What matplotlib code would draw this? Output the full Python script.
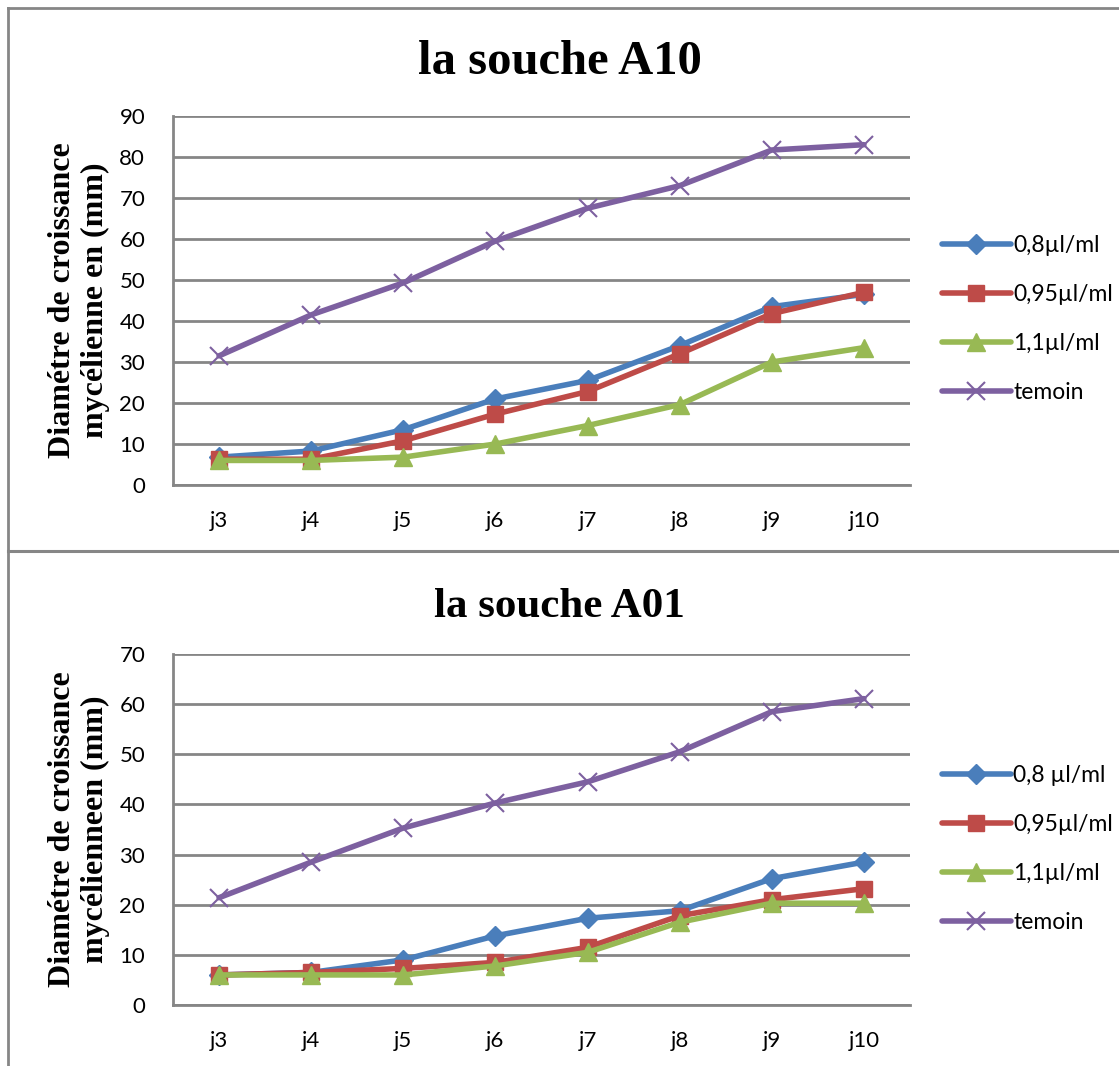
import matplotlib
matplotlib.use("Agg")
import matplotlib.pyplot as plt
from matplotlib.lines import Line2D
import numpy as np

# days on the x axis
days = ['j3', 'j4', 'j5', 'j6', 'j7', 'j8', 'j9', 'j10']

# la souche A10
a10_labels = ['0,8µl/ml', '0,95µl/ml', '1,1µl/ml', 'temoin']
a10_08 = [6.8, 8.3, 13.5, 21.0, 25.5, 34.0, 43.5, 46.5]
a10_095 = [6.3, 6.3, 10.8, 17.3, 22.8, 32.0, 41.8, 47.0]
a10_11 = [6.0, 6.0, 6.8, 10.0, 14.5, 19.6, 30.0, 33.5]
a10_temoin = [31.5, 41.5, 49.3, 59.5, 67.5, 73.0, 81.7, 83.0]

# la souche A01
a01_labels = ['0,8 µl/ml', '0,95µl/ml', '1,1µl/ml', 'temoin']
a01_08 = [6.0, 6.5, 9.0, 13.8, 17.3, 18.8, 25.2, 28.5]
a01_095 = [6.0, 6.5, 7.3, 8.5, 11.5, 17.8, 21.0, 23.2]
a01_11 = [6.0, 6.0, 6.0, 7.8, 10.5, 16.5, 20.3, 20.3]
a01_temoin = [21.4, 28.5, 35.3, 40.3, 44.5, 50.5, 58.5, 61.1]

colors = ['#4A7EBB', '#BE4B48', '#98B954', '#7D60A0']
markers = ['D', 's', '^', 'x']
msizes = [10.5, 12, 12.5, 13]
grid_col = '#868686'
tick_font = 'Lato'
serif = 'Liberation Serif'

fig = plt.figure(figsize=(11.19, 10.66), dpi=100)


def draw_panel(rect, series, labels, ymax, title, ylabel, title_y, title_size,
               leg_y):
    ax = fig.add_axes(rect)
    x = np.arange(len(days))
    for vals, lab, c, m, ms in zip(series, labels, colors, markers, msizes):
        mew = 1.5 if m == 'x' else 1
        ax.plot(x, vals, color=c, lw=4.0, marker=m, markersize=ms,
                markeredgewidth=mew, markeredgecolor=c, label=lab,
                solid_capstyle='round')
    ax.set_xlim(-0.5, len(days) - 0.5)
    ax.set_ylim(0, ymax)
    ax.set_yticks(np.arange(0, ymax + 1, 10))
    ax.set_xticks(x)
    ax.set_xticklabels(days)
    ax.yaxis.grid(True, color=grid_col, lw=2)
    ax.set_axisbelow(True)
    for s in ['top', 'right']:
        ax.spines[s].set_visible(False)
    for s in ['left', 'bottom']:
        ax.spines[s].set_color(grid_col)
        ax.spines[s].set_linewidth(2)
    ax.tick_params(length=0, labelsize=16)
    ax.tick_params(axis='y', pad=20)
    ax.tick_params(axis='x', pad=19)
    for t in ax.get_xticklabels() + ax.get_yticklabels():
        t.set_fontfamily(tick_font)
    ax.set_ylabel(ylabel, fontfamily=serif, fontweight='bold', fontsize=23,
                  labelpad=7, linespacing=1.15)
    fig.text(0.5, title_y, title, fontfamily=serif, fontweight='bold',
             fontsize=title_size, ha='center', va='center')
    ax.legend(loc='center left', bbox_to_anchor=(1.0, leg_y), frameon=False,
              prop={'family': tick_font, 'size': 16.5}, handlelength=3.0,
              labelspacing=1.22, handletextpad=0.1, borderaxespad=1.0)
    return ax


draw_panel([0.1546, 0.545, 0.6586, 0.3462],
           [a10_08, a10_095, a10_11, a10_temoin], a10_labels, 90,
           'la souche A10',
           'Diamétre de croissance\nmycélienne en (mm)', 0.942, 35, 0.45)

draw_panel([0.1546, 0.0572, 0.6586, 0.3293],
           [a01_08, a01_095, a01_11, a01_temoin], a01_labels, 70,
           'la souche A01',
           'Diamétre de croissance\nmycélienneen (mm)', 0.431, 31, 0.445)

# outer frame lines
W, H = 1119, 1066
fig.add_artist(Line2D([8 / W, 8 / W], [0, 1 - 8 / H], color=grid_col, lw=2))
fig.add_artist(Line2D([8 / W, 1], [1 - 8 / H, 1 - 8 / H], color=grid_col, lw=2))
fig.add_artist(Line2D([8 / W, 1], [1 - 551 / H, 1 - 551 / H], color=grid_col, lw=2.2))

fig.savefig('out.png', dpi=100)
